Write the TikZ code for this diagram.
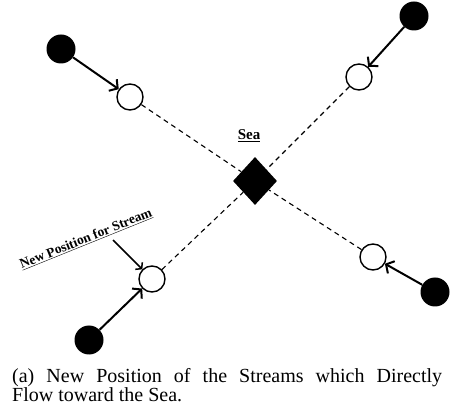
\documentclass[tikz,border=0pt]{standalone}
\usepackage{fontspec}
\setmainfont{Liberation Serif}
\usetikzlibrary{arrows.meta,shapes.geometric}

\begin{document}
\begin{tikzpicture}[x=1pt,y=1pt,
	src/.style={circle,fill=black,inner sep=0pt,minimum size=29pt},
	spot/.style={circle,draw=black,line width=1.4pt,fill=white,inner sep=0pt,minimum size=26pt},
	flow/.style={line width=2pt,-{Straight Barb[length=6pt,width=14pt,line width=2pt]}},
	link/.style={dashed,line width=1.1pt,dash pattern=on 5pt off 4pt}]
	\useasboundingbox (0,0) rectangle (454,417);
	\node [diamond,fill=black,inner sep=0pt,minimum width=44pt,minimum height=48pt] (S) at (255,236) {};
	\node (L) at (249,281) {\fontsize{15}{15}\selectfont\underline{\textbf{Sea}}};
	\node [src] (B1) at (61,368) {};
	\node [spot] (P1) at (130,320) {};
	\node [src] (B2) at (414,401) {};
	\node [spot] (P2) at (359,340) {};
	\node [src] (B3) at (435,125) {};
	\node [spot] (P3) at (373,160) {};
	\node [src] (B4) at (89,77) {};
	\node [spot] (P4) at (152,138) {};
	\node [rotate=22] (N) at (86,178) {\fontsize{13.5}{13.5}\selectfont\underline{\textbf{New Position for Stream}}};
	\coordinate (T) at (113,177);
	\draw [link] (P1) to (S);
	\draw [link] (P2) to (S);
	\draw [link] (P3) to (S);
	\draw [link] (P4) to (S);
	\draw [flow] (B1) to (P1);
	\draw [flow] (B2) to (P2);
	\draw [flow] (B3) to (P3);
	\draw [flow] (B4) to (P4);
	\draw [line width=1.5pt,-{Straight Barb[length=4pt,width=10pt,line width=1.5pt]}] (T) to (P4);
	\node [anchor=base west,inner sep=0pt,text width=430pt,align=justify] (C) at (12,35)
		{\fontsize{20}{21}\selectfont (a) New Position of the Streams which Directly\linebreak Flow toward the Sea.};
\end{tikzpicture}
\end{document}
